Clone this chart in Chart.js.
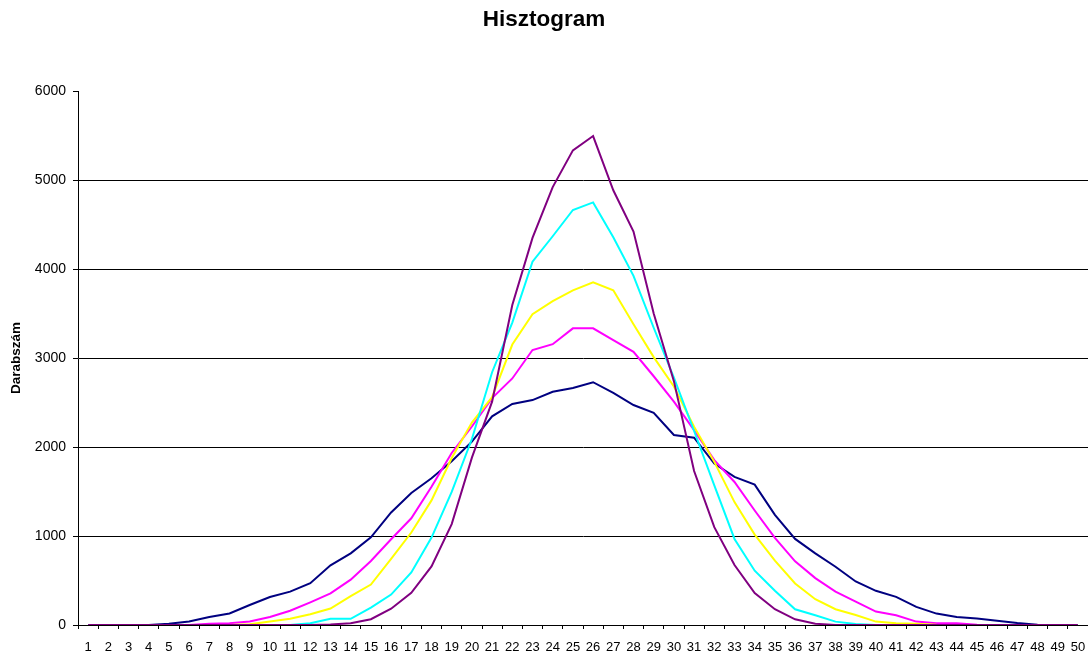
<!DOCTYPE html>
<html lang="hu">
<head>
<meta charset="utf-8">
<title>Hisztogram</title>
<script src="https://cdn.jsdelivr.net/npm/chart.js@4.4.1/dist/chart.umd.min.js"></script>
<style>
  html, body { margin: 0; padding: 0; background: #ffffff; }
  #wrap { width: 1088px; height: 656px; }
</style>
</head>
<body>
<div id="wrap"><canvas id="chart" width="1088" height="656"></canvas></div>
<script>
// Bin labels 1..50
const categories = ['1','2','3','4','5','6','7','8','9','10','11','12','13','14','15','16','17','18','19','20',
  '21','22','23','24','25','26','27','28','29','30','31','32','33','34','35','36','37','38','39','40',
  '41','42','43','44','45','46','47','48','49','50'];

// Counts per bin for each series
const sorozat1 = [0,0,0,0,15,40,90,130,225,315,375,470,670,805,985,1265,1484,1648,1840,2060,
  2345,2483,2527,2620,2664,2728,2607,2472,2385,2135,2105,1814,1664,1577,1238,967,805,655,489,384,
  316,203,128,90,72,49,23,4,0,0];
const sorozat2 = [0,0,0,0,0,0,15,20,40,90,160,255,355,510,720,963,1199,1553,1933,2230,
  2550,2770,3090,3155,3333,3333,3200,3070,2795,2510,2190,1852,1607,1287,979,715,527,376,263,151,
  109,38,19,19,4,0,0,0,0,0];
const sorozat3 = [0,0,0,0,0,0,0,0,8,40,70,120,185,325,455,742,1039,1400,1876,2275,
  2560,3151,3493,3638,3760,3851,3760,3379,3010,2680,2228,1833,1381,1016,723,467,290,177,113,38,
  19,15,4,0,0,0,0,0,0,0];
const sorozat4 = [0,0,0,0,0,0,0,0,0,0,0,20,70,70,195,342,590,982,1495,2090,
  2840,3398,4083,4368,4663,4748,4357,3923,3340,2780,2180,1569,967,610,384,177,109,38,11,0,
  0,0,0,0,0,0,0,0,0,0];
const sorozat5 = [0,0,0,0,0,0,0,0,0,0,0,0,5,20,65,183,361,658,1134,1880,
  2510,3596,4349,4920,5333,5494,4885,4420,3500,2740,1730,1099,674,358,177,64,15,0,0,0,
  0,0,0,0,0,0,0,0,0,0];

const seriesNames = ['Sorozat1','Sorozat2','Sorozat3','Sorozat4','Sorozat5'];
const seriesData = [sorozat1, sorozat2, sorozat3, sorozat4, sorozat5];
const seriesColors = ['#000080','#FF00FF','#FFFF00','#00FFFF','#800080'];

// Y axis tick values
const yTicks = [0,1000,2000,3000,4000,5000,6000];

const FONT = "'Liberation Sans', Arial, sans-serif";

const datasets = seriesData.map((d, i) => ({
  label: seriesNames[i],
  data: d,
  borderColor: seriesColors[i],
  backgroundColor: seriesColors[i],
  borderWidth: 2,
  pointRadius: 0,
  pointHoverRadius: 0,
  tension: 0,
  fill: false,
  // later series are painted over earlier ones
  order: seriesData.length - i
}));

new Chart(document.getElementById('chart'), {
  type: 'line',
  data: { labels: categories, datasets: datasets },
  options: {
    responsive: false,
    animation: false,
    devicePixelRatio: 1,
    layout: { padding: { left: 0, right: 0, top: 0, bottom: 0 } },
    plugins: {
      legend: { display: false },
      tooltip: { enabled: false },
      title: {
        display: true,
        text: 'Hisztogram',
        color: '#000000',
        font: { family: FONT, size: 22.5, weight: 'bold' },
        padding: { top: 6, bottom: 58 }
      }
    },
    scales: {
      x: {
        type: 'category',
        offset: true,
        afterFit: (s) => { s.height = 31; s.paddingLeft = 0; s.paddingRight = 0; },
        grid: {
          display: true,
          offset: true,
          drawOnChartArea: false,
          drawTicks: true,
          tickLength: 4,
          color: '#000000',
          lineWidth: 1
        },
        border: { display: true, color: '#000000', width: 1 },
        ticks: {
          color: '#000000',
          font: { family: FONT, size: 13 },
          padding: 11,
          maxRotation: 0,
          minRotation: 0,
          autoSkip: false
        }
      },
      y: {
        min: 0,
        max: 6000,
        afterFit: (s) => { s.width = 78; },
        afterBuildTicks: (s) => { s.ticks = yTicks.map(v => ({ value: v })); },
        title: {
          display: true,
          text: 'Darabszám',
          color: '#000000',
          font: { family: FONT, size: 13.5, weight: 'bold' },
          padding: { top: 8, bottom: 0 }
        },
        grid: {
          display: true,
          drawTicks: true,
          tickLength: 5,
          color: (ctx) => (ctx.tick && ctx.tick.value === 6000) ? 'rgba(0,0,0,0)' : '#000000',
          tickColor: '#000000',
          lineWidth: 1
        },
        border: { display: true, color: '#000000', width: 1 },
        ticks: {
          color: '#000000',
          font: { family: FONT, size: 14 },
          padding: 7,
          callback: (v) => String(v)
        }
      }
    }
  }
});
</script>
</body>
</html>
